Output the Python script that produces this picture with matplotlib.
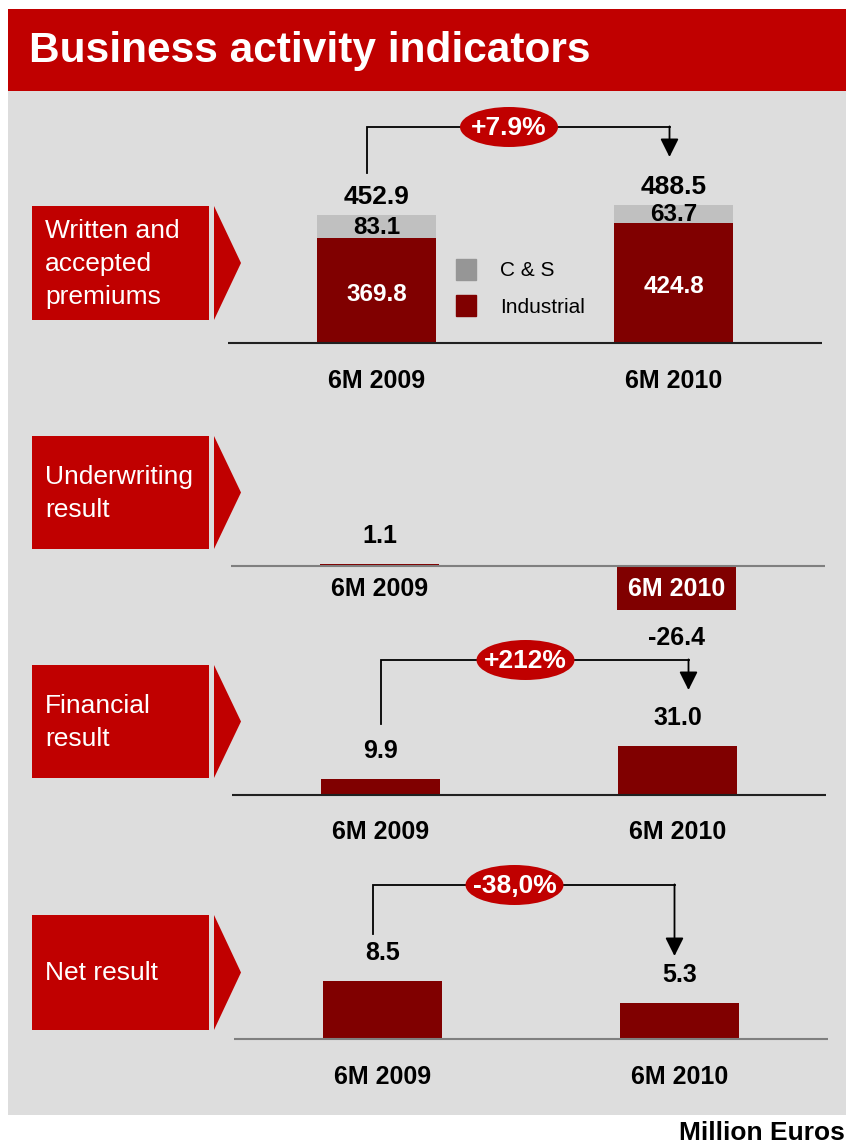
import matplotlib
matplotlib.use('Agg')
import matplotlib.pyplot as plt
from matplotlib.patches import Rectangle, Polygon, Ellipse, Patch

W, H = 846, 1145
RED = '#C00000'
DARK_RED = '#800000'
CS_GREY = '#C0C0C0'
CS_LEGEND = '#969696'
BG_GREY = '#DDDDDD'

# data (million euros)
periods = ['6M 2009', '6M 2010']
premiums_industrial = [369.8, 424.8]
premiums_cs = [83.1, 63.7]
underwriting_result = [1.1, -26.4]
financial_result = [9.9, 31.0]
net_result = [8.5, 5.3]

panel_titles = ['Written and\naccepted\npremiums', 'Underwriting\nresult',
                'Financial\nresult', 'Net result']
change_premiums = '+7.9%'
change_financial = '+212%'
change_net = '-38,0%'

plt.rcParams['font.family'] = ['Liberation Sans', 'DejaVu Sans']

fig = plt.figure(figsize=(W / 100, H / 100), dpi=100)
bg = fig.add_axes([0, 0, 1, 1])
bg.set_xlim(0, W)
bg.set_ylim(H, 0)
bg.axis('off')

# background, header
bg.add_patch(Rectangle((8, 91), W - 8, 1024, color=BG_GREY, lw=0))
bg.add_patch(Rectangle((8, 9), W - 8, 82, color=RED, lw=0))
bg.text(29, 51, 'Business activity indicators', color='white', fontsize=30.5,
        fontweight='bold', ha='left', va='center')
bg.text(845, 1133, 'Million Euros', fontsize=19, fontweight='bold',
        ha='right', va='center')


def label_box(y0, y1, text):
    bg.add_patch(Rectangle((32, y0), 177, y1 - y0, color=RED, lw=0))
    bg.add_patch(Polygon([(214, y0), (241, (y0 + y1) / 2), (214, y1)],
                         closed=True, color=RED, lw=0))
    bg.text(45, (y0 + y1) / 2 + 1, text, color='white', fontsize=19,
            ha='left', va='center', linespacing=1.45)


def panel_axes(x0, yb, scale, top_room, bottom_room):
    ax = fig.add_axes([x0 / W, 1 - (yb + bottom_room) / H, 594 / W,
                       (top_room + bottom_room) / H])
    ax.set_xlim(-0.5, 1.5)
    ax.set_ylim(-bottom_room / scale, top_room / scale)
    ax.axis('off')
    return ax


def bar_px(ax, i):
    return ax.transData.transform((i, 0))[0]


def bracket(ax, y_top, y_left, y_tip, dx_left, dx_right, text):
    xl = bar_px(ax, 0) + dx_left
    xr = bar_px(ax, 1) + dx_right
    bg.plot([xl, xl, xr], [y_left, y_top, y_top], color='black', lw=1.3,
            solid_joinstyle='miter')
    bg.annotate('', xy=(xr, y_tip), xytext=(xr, y_top - 0.6),
                arrowprops=dict(arrowstyle='-|>', color='black', lw=1.3,
                                mutation_scale=28, shrinkA=0, shrinkB=0))
    xc = (xl + xr) / 2 - 9
    bg.add_patch(Ellipse((xc, y_top), 98, 40, color=RED, lw=0, zorder=3))
    bg.text(xc, y_top + 1, text, color='white', fontsize=19, fontweight='bold',
            ha='center', va='center', zorder=4)


def simple_bars(ax, values, line_color, lab_off, cat_off):
    x = range(len(values))
    ax.bar(x, values, 0.4, color=DARK_RED)
    ax.axhline(0, color=line_color, lw=1.5)
    for i, v in enumerate(values):
        off = lab_off if v >= 0 else -lab_off
        ax.annotate(f'{v:.1f}', (i, v), xytext=(0, off), textcoords='offset pixels',
                    ha='center', va='center', fontsize=18, fontweight='bold')
        ax.annotate(periods[i], (i, 0), xytext=(0, -cat_off), textcoords='offset pixels',
                    ha='center', va='center', fontsize=18, fontweight='bold',
                    color='white' if v < 0 else 'black')


# panel 1: written and accepted premiums
label_box(206, 320, panel_titles[0])
ax1 = panel_axes(228, 343, 0.2826, 193, 50)
x = range(len(periods))
totals = [a + b for a, b in zip(premiums_industrial, premiums_cs)]
ax1.bar(x, premiums_industrial, 0.4, color=DARK_RED)
ax1.bar(x, premiums_cs, 0.4, bottom=premiums_industrial, color=CS_GREY)
ax1.axhline(0, color='#202020', lw=1.5)
for i in x:
    ind, cs, tot = premiums_industrial[i], premiums_cs[i], totals[i]
    ax1.annotate(f'{tot:.1f}', (i, tot), xytext=(0, 18), textcoords='offset pixels',
                 ha='center', va='center', fontsize=19, fontweight='bold')
    ax1.annotate(f'{cs:.1f}', (i, ind + cs / 2), xytext=(0, -1), textcoords='offset pixels',
                 ha='center', va='center', fontsize=17.5, fontweight='bold')
    ax1.annotate(f'{ind:.1f}', (i, ind / 2), xytext=(0, -4), textcoords='offset pixels',
                 ha='center', va='center', fontsize=17.5, fontweight='bold', color='white')
    ax1.annotate(periods[i], (i, 0), xytext=(0, -38), textcoords='offset pixels',
                 ha='center', va='center', fontsize=18, fontweight='bold')
handles = [Patch(color=CS_LEGEND, label='C & S'), Patch(color=DARK_RED, label='Industrial')]
ax1.legend(handles=handles, loc='upper left', bbox_to_anchor=(456 / W, 1 - 259 / H),
           bbox_transform=fig.transFigure, frameon=False, fontsize=15,
           handlelength=0.96, handleheight=1.15, handletextpad=1.15,
           labelspacing=0.72, borderpad=0, borderaxespad=0)
bracket(ax1, 127, 173, 157, -10, -4, change_premiums)

# panel 2: underwriting result
label_box(436, 549, panel_titles[1])
ax2 = panel_axes(231, 566, 1.667, 120, 80)
simple_bars(ax2, underwriting_result, '#7F7F7F', 28, 23)

# panel 3: financial result
label_box(665, 778, panel_titles[2])
ax3 = panel_axes(232, 795, 1.58, 120, 50)
simple_bars(ax3, financial_result, '#202020', 28, 37)
bracket(ax3, 660, 724, 690, 0, 11, change_financial)

# panel 4: net result
label_box(915, 1030, panel_titles[3])
ax4 = panel_axes(234, 1039, 6.82, 140, 50)
simple_bars(ax4, net_result, '#7F7F7F', 28, 38)
bracket(ax4, 885, 934, 956, -10, -5, change_net)

fig.savefig('out.png', dpi=100)
